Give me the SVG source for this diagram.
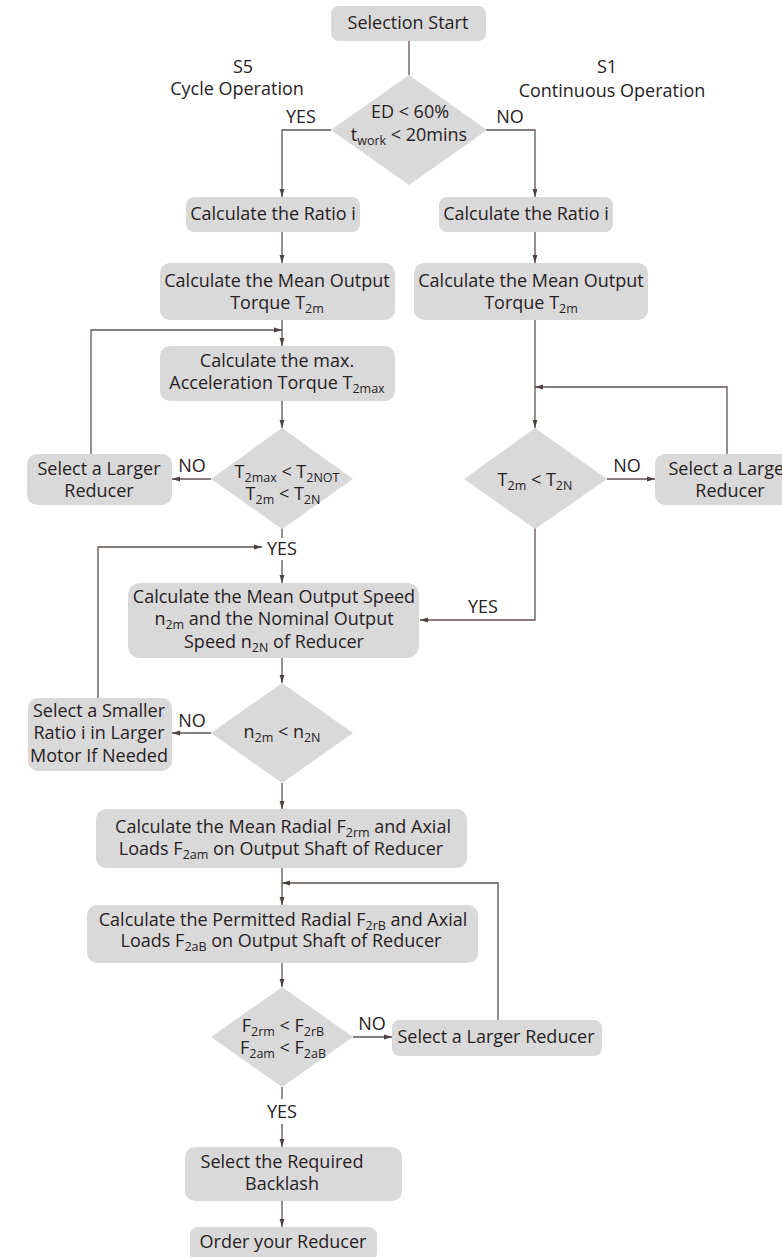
<svg xmlns="http://www.w3.org/2000/svg" width="782" height="1257" viewBox="0 0 782 1257">
<defs>
<marker id="ah" markerUnits="userSpaceOnUse" markerWidth="9" markerHeight="6" refX="8" refY="3" orient="auto">
<path d="M0,0.6 L8,3 L0,5.4 Z" fill="#4a4040"/>
</marker>
<style>
.box{fill:#d9d9d9;}
.dia{fill:#d9d9d9;}
.t{font-family:"Open Sans","Noto Sans","Liberation Sans",sans-serif;font-size:18px;fill:#262223;text-anchor:middle;}
.s{font-size:12.5px;}
.c{fill:none;stroke:#5e5353;stroke-width:1.3;}
.a{marker-end:url(#ah);}
</style>
</defs>
<rect width="782" height="1257" fill="#ffffff"/>

<g id="connectors">
<path class="c" d="M409,41 V75"/>
<path class="c a" d="M331,130 H282 V197"/>
<path class="c a" d="M486,130 H535 V197"/>
<path class="c a" d="M282,232 V263"/>
<path class="c a" d="M535,232 V263"/>
<path class="c a" d="M282,320 V346"/>
<path class="c a" d="M91,454 V330 H282"/>
<path class="c a" d="M282,401 V428"/>
<path class="c a" d="M211,479 H172"/>
<path class="c" d="M282,528 V538"/>
<path class="c a" d="M282,560 V583"/>
<path class="c a" d="M98,698 V547 H262"/>
<path class="c a" d="M282,658 V683"/>
<path class="c a" d="M211,733 H172"/>
<path class="c a" d="M282,783 V809"/>
<path class="c a" d="M282,868 V905"/>
<path class="c a" d="M498,1020 V883 H282"/>
<path class="c a" d="M282,963 V987"/>
<path class="c a" d="M353,1037 H392"/>
<path class="c" d="M282,1087 V1099"/>
<path class="c a" d="M282,1124 V1147"/>
<path class="c a" d="M282,1201 V1227"/>
<path class="c a" d="M535,320 V428"/>
<path class="c a" d="M727,454 V387 H535"/>
<path class="c a" d="M607,479 H655"/>
<path class="c a" d="M535,528 V620 H420"/>
</g>

<g id="labels">
<text class="t" x="243" y="73">S5</text>
<text class="t" x="237" y="95">Cycle Operation</text>
<text class="t" x="607" y="73">S1</text>
<text class="t" x="612" y="97">Continuous Operation</text>
<text class="t" x="301" y="123">YES</text>
<text class="t" x="510" y="123">NO</text>
<text class="t" x="192" y="472">NO</text>
<text class="t" x="282" y="555">YES</text>
<text class="t" x="627" y="472">NO</text>
<text class="t" x="483" y="613">YES</text>
<text class="t" x="192" y="727">NO</text>
<text class="t" x="372" y="1030">NO</text>
<text class="t" x="282" y="1118">YES</text>
</g>

<g id="start">
<rect class="box" x="331" y="6" width="155" height="35" rx="8"/>
<text class="t" x="408" y="29">Selection Start</text>
</g>

<g id="d-ed">
<polygon class="dia" points="409,75 487,130 409,185 331,130"/>
<text class="t" x="410" y="118">ED &lt; 60%</text>
<text class="t" x="409" y="141">t<tspan class="s" dy="4">work</tspan><tspan dy="-4"> &lt; 20mins</tspan></text>
</g>

<g id="l-ratio">
<rect class="box" x="186" y="197" width="174" height="35" rx="8"/>
<text class="t" x="273" y="220">Calculate the Ratio i</text>
</g>

<g id="r-ratio">
<rect class="box" x="439" y="197" width="174" height="35" rx="8"/>
<text class="t" x="526" y="220">Calculate the Ratio i</text>
</g>

<g id="l-torque">
<rect class="box" x="160" y="263" width="235" height="57" rx="10"/>
<text class="t" x="277" y="287">Calculate the Mean Output</text>
<text class="t" x="277" y="309">Torque T<tspan class="s" dy="4">2m</tspan></text>
</g>

<g id="r-torque">
<rect class="box" x="414" y="263" width="234" height="57" rx="10"/>
<text class="t" x="531" y="287">Calculate the Mean Output</text>
<text class="t" x="531" y="309">Torque T<tspan class="s" dy="4">2m</tspan></text>
</g>

<g id="l-accel">
<rect class="box" x="160" y="346" width="235" height="55" rx="10"/>
<text class="t" x="277" y="367">Calculate the max.</text>
<text class="t" x="277" y="389">Acceleration Torque T<tspan class="s" dy="4">2max</tspan></text>
</g>

<g id="d-t2max">
<polygon class="dia" points="282,428 353,479 282,529 211,479"/>
<text class="t" x="287" y="478">T<tspan class="s" dy="4">2max</tspan><tspan dy="-4"> &lt; T</tspan><tspan class="s" dy="4">2NOT</tspan></text>
<text class="t" x="283" y="500">T<tspan class="s" dy="4">2m</tspan><tspan dy="-4"> &lt; T</tspan><tspan class="s" dy="4">2N</tspan></text>
</g>

<g id="l-larger">
<rect class="box" x="27" y="454" width="145" height="51" rx="10"/>
<text class="t" x="99" y="475">Select a Larger</text>
<text class="t" x="99" y="497">Reducer</text>
</g>

<g id="d-t2m">
<polygon class="dia" points="535,428 607,479 535,529 464,479"/>
<text class="t" x="535" y="486">T<tspan class="s" dy="4">2m</tspan><tspan dy="-4"> &lt; T</tspan><tspan class="s" dy="4">2N</tspan></text>
</g>

<g id="r-larger">
<rect class="box" x="655" y="454" width="140" height="51" rx="10"/>
<text class="t" x="730" y="475">Select a Larger</text>
<text class="t" x="730" y="497">Reducer</text>
</g>

<g id="speed">
<rect class="box" x="128" y="583" width="291" height="75" rx="12"/>
<text class="t" x="274" y="603">Calculate the Mean Output Speed</text>
<text class="t" x="274" y="625">n<tspan class="s" dy="4">2m</tspan><tspan dy="-4"> and the Nominal Output</tspan></text>
<text class="t" x="274" y="648">Speed n<tspan class="s" dy="4">2N</tspan><tspan dy="-4"> of Reducer</tspan></text>
</g>

<g id="d-n2m">
<polygon class="dia" points="282,683 353,733 282,783 211,733"/>
<text class="t" x="282" y="738">n<tspan class="s" dy="4">2m</tspan><tspan dy="-4"> &lt; n</tspan><tspan class="s" dy="4">2N</tspan></text>
</g>

<g id="smaller">
<rect class="box" x="28" y="698" width="144" height="73" rx="10"/>
<text class="t" x="99" y="717">Select a Smaller</text>
<text class="t" x="99" y="739">Ratio i in Larger</text>
<text class="t" x="99" y="762">Motor If Needed</text>
</g>

<g id="mean-radial">
<rect class="box" x="96" y="809" width="371" height="59" rx="10"/>
<text class="t" x="283" y="833">Calculate the Mean Radial F<tspan class="s" dy="4">2rm</tspan><tspan dy="-4"> and Axial</tspan></text>
<text class="t" x="281" y="855">Loads  F<tspan class="s" dy="4">2am</tspan><tspan dy="-4"> on Output Shaft of Reducer</tspan></text>
</g>

<g id="permitted">
<rect class="box" x="87" y="905" width="391" height="58" rx="10"/>
<text class="t" x="283" y="926">Calculate the Permitted Radial F<tspan class="s" dy="4">2rB</tspan><tspan dy="-4"> and Axial</tspan></text>
<text class="t" x="281" y="947">Loads F<tspan class="s" dy="4">2aB</tspan><tspan dy="-4"> on Output Shaft of Reducer</tspan></text>
</g>

<g id="d-f">
<polygon class="dia" points="282,987 353,1037 282,1087 211,1037"/>
<text class="t" x="283" y="1032">F<tspan class="s" dy="4">2rm</tspan><tspan dy="-4"> &lt; F</tspan><tspan class="s" dy="4">2rB</tspan></text>
<text class="t" x="283" y="1054">F<tspan class="s" dy="4">2am</tspan><tspan dy="-4"> &lt; F</tspan><tspan class="s" dy="4">2aB</tspan></text>
</g>

<g id="b-larger">
<rect class="box" x="392" y="1020" width="210" height="36" rx="8"/>
<text class="t" x="496" y="1043">Select a Larger Reducer</text>
</g>

<g id="backlash">
<rect class="box" x="185" y="1147" width="217" height="54" rx="10"/>
<text class="t" x="282" y="1168">Select the Required</text>
<text class="t" x="282" y="1190">Backlash</text>
</g>

<g id="order">
<rect class="box" x="190" y="1227" width="187" height="34" rx="8"/>
<text class="t" x="283" y="1248">Order your Reducer</text>
</g>
</svg>
